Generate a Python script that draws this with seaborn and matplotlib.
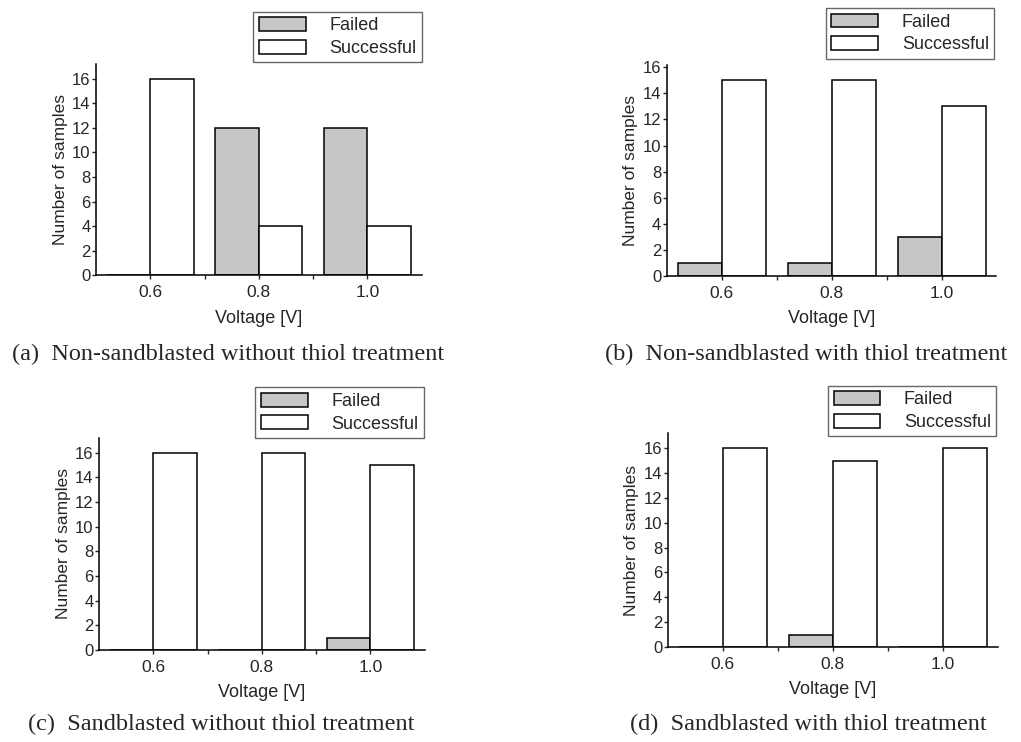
import matplotlib
matplotlib.use("Agg")
import matplotlib.pyplot as plt
import seaborn as sns
import pandas as pd

voltages = ["0.6", "0.8", "1.0"]
series_names = ["Failed", "Successful"]

failed_a = [0, 12, 12]
success_a = [16, 4, 4]
failed_b = [1, 1, 3]
success_b = [15, 15, 13]
failed_c = [0, 0, 1]
success_c = [16, 16, 15]
failed_d = [0, 1, 0]
success_d = [16, 15, 16]

captions = [
    "(a)  Non\u2010sandblasted without thiol treatment",
    "(b)  Non\u2010sandblasted with thiol treatment",
    "(c)  Sandblasted without thiol treatment",
    "(d)  Sandblasted with thiol treatment",
]
yticks = [0, 2, 4, 6, 8, 10, 12, 14, 16]

sns.set_theme(style="ticks")
plt.rcParams["font.family"] = ["Liberation Sans", "DejaVu Sans"]

fig = plt.figure(figsize=(10.21, 7.42), dpi=100)

panels = [
    (failed_a, success_a, [0.094, 0.629, 0.319, 0.285], 17.2, (0.413, 0.984), (0.012, 0.522)),
    (failed_b, success_b, [0.653, 0.628, 0.323, 0.284], 16.15, (0.974, 0.989), (0.593, 0.522)),
    (failed_c, success_c, [0.097, 0.124, 0.319, 0.286], 17.2, (0.415, 0.478), (0.027, 0.023)),
    (failed_d, success_d, [0.654, 0.128, 0.323, 0.288], 17.2, (0.976, 0.480), (0.617, 0.023)),
]

palette = {"Failed": "#c6c6c6", "Successful": "#ffffff"}

for (fv, sv, rect, ytop, legpos, cappos), cap in zip(panels, captions):
    df = pd.DataFrame({
        "Voltage": voltages * 2,
        "Count": list(fv) + list(sv),
        "Result": [series_names[0]] * 3 + [series_names[1]] * 3,
    })
    ax = fig.add_axes(rect)
    sns.barplot(data=df, x="Voltage", y="Count", hue="Result", order=voltages,
                hue_order=series_names, palette=palette, edgecolor="black",
                linewidth=1.1, width=0.8, ax=ax, legend=True, saturation=1)
    ax.set_xlim(-0.5, 2.5)
    ax.set_ylim(0, ytop)
    ax.set_yticks(yticks)
    ax.set_yticklabels([str(t) for t in yticks], fontsize=12)
    ax.set_xticks(range(3))
    ax.set_xticklabels(voltages, fontsize=12.5)
    ax.set_xticks([0.5, 1.5], minor=True)
    ax.tick_params(axis="x", which="both", direction="out", length=3, width=1, pad=4)
    ax.tick_params(axis="y", direction="out", length=3, width=1, pad=1)
    ax.set_xlabel("Voltage [V]", fontsize=13, labelpad=7)
    ax.set_ylabel("Number of samples", fontsize=12.5, labelpad=3)
    for s in ["top", "right"]:
        ax.spines[s].set_visible(False)
    for s in ["left", "bottom"]:
        ax.spines[s].set_linewidth(1.1)
        ax.spines[s].set_color("black")
    leg = ax.legend(loc="upper right", bbox_to_anchor=legpos,
                    bbox_transform=fig.transFigure, frameon=True, fancybox=False,
                    fontsize=13, handlelength=2.6, handleheight=0.8,
                    borderpad=0.3, labelspacing=0.3, handletextpad=1.3,
                    borderaxespad=0, title=None)
    leg.get_frame().set_edgecolor("#444444")
    leg.get_frame().set_linewidth(1.0)
    for h in leg.legend_handles:
        h.set_edgecolor("black")
        h.set_linewidth(1.1)
    fig.text(cappos[0], cappos[1], cap, fontsize=17.5, family=["Liberation Serif", "DejaVu Serif"],
             ha="left", va="center")

fig.savefig("out.png", dpi=100, facecolor="white")
